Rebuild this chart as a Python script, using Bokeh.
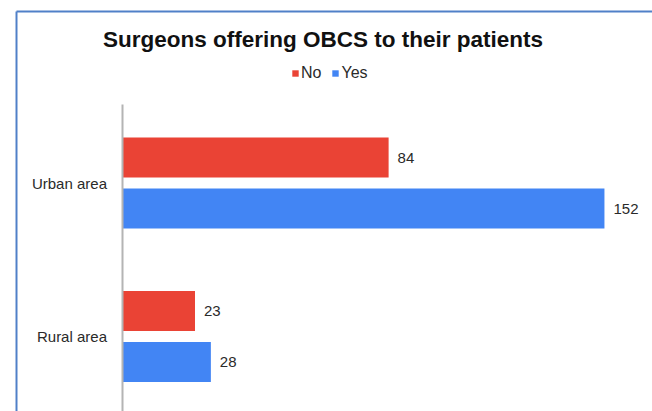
from bokeh.plotting import figure
from bokeh.models import (ColumnDataSource, Range1d, FixedTicker, Legend, LegendItem,
                          Label, BoxAnnotation)
from bokeh.embed import file_html
from bokeh.resources import INLINE
from bokeh.core.properties import value

# ---- data ----
categories = ["Urban area", "Rural area"]
no_values = [84, 23]
yes_values = [152, 28]
series_names = ["No", "Yes"]
title_text = "Surgeons offering OBCS to their patients"

# ---- layout constants (pixels) ----
FIG_W, FIG_H = 652, 411
X0_PX = 121.5          # figure px where x = 0
K = 3.174              # px per unit on x
U = 153.5              # px per category on y
RURAL_FROM_BOTTOM = 75.0

x_start = -X0_PX / K
x_end = (FIG_W - X0_PX) / K
y_start = 0.5 - RURAL_FROM_BOTTOM / U
y_end = y_start + FIG_H / U


def px_x(px):
    return x_start + px / K


def px_y(px_top):
    return y_start + (FIG_H - px_top) / U


RED = "#EA4335"
BLUE = "#4285F4"
BORDER = "#5080c8"
FONT = "Liberation Sans"

n = len(categories)
centers = [n - 0.5 - i for i in range(n)]   # first category on top
bar_h = 40 / U
off = 25.5 / U

src_no = ColumnDataSource(dict(y=[c + off for c in centers], v=no_values,
                               lab=[str(v) for v in no_values]))
src_yes = ColumnDataSource(dict(y=[c - off for c in centers], v=yes_values,
                                lab=[str(v) for v in yes_values]))

p = figure(width=FIG_W, height=FIG_H, output_backend="svg", toolbar_location=None,
           x_range=Range1d(x_start, x_end), y_range=Range1d(y_start, y_end),
           x_axis_type=None, min_border=0, min_border_left=0, min_border_right=0,
           min_border_top=0, min_border_bottom=0)
p.outline_line_color = None
p.background_fill_color = "white"
p.border_fill_color = "white"
p.ygrid.visible = False

r_no = p.hbar(y="y", right="v", left=0, height=bar_h, source=src_no,
              fill_color=RED, line_color=None)
r_yes = p.hbar(y="y", right="v", left=0, height=bar_h, source=src_yes,
               fill_color=BLUE, line_color=None)

for src in (src_no, src_yes):
    p.text(x="v", y="y", text="lab", source=src, x_offset=9,
           text_baseline="middle", text_align="left",
           text_font=value(FONT), text_font_size="15px", text_color="#2a2a2a")

# y axis drawn at x = 0
ax = p.yaxis[0]
ax.fixed_location = 0
ax.ticker = FixedTicker(ticks=centers)
ax.major_label_overrides = {c: cat for c, cat in zip(centers, categories)}
ax.major_tick_line_color = None
ax.minor_tick_line_color = None
ax.major_tick_out = 0
ax.major_tick_in = 0
ax.major_label_standoff = 15
ax.major_label_text_font = FONT
ax.major_label_text_font_size = "15px"
ax.major_label_text_color = "#2a2a2a"
ax.axis_line_color = "#b4b4b4"
ax.axis_line_width = 2
ax.bounds = (y_start - 1, px_y(104))

# frame border (blue): left and top edges only
p.add_layout(BoxAnnotation(left=px_x(16), right=px_x(16), top=px_y(11),
                           bottom=y_start - 5, fill_alpha=0, fill_color=None,
                           line_color=BORDER, line_alpha=1.0, line_width=2))
p.add_layout(BoxAnnotation(left=px_x(16), right=x_end + 100, top=px_y(11),
                           bottom=px_y(11), fill_alpha=0, fill_color=None,
                           line_color=BORDER, line_alpha=1.0, line_width=2))

# title
p.add_layout(Label(x=px_x(322.5), y=px_y(39), text=title_text,
                   text_align="center", text_baseline="alphabetic",
                   text_font=FONT, text_font_size="22.5px", text_font_style="bold",
                   text_color="#111111"))

# legend
legend = Legend(items=[LegendItem(label=series_names[0], renderers=[r_no]),
                       LegendItem(label=series_names[1], renderers=[r_yes])],
                orientation="horizontal", location=(291, 329),
                glyph_width=8, glyph_height=8, label_standoff=2, spacing=10,
                padding=0, margin=0, border_line_color=None,
                background_fill_alpha=0, label_text_font=FONT,
                label_text_font_size="16px", label_text_color="#2a2a2a",
                label_height=16)
p.add_layout(legend, "center")

open("out.html", "w").write(file_html(p, INLINE))
